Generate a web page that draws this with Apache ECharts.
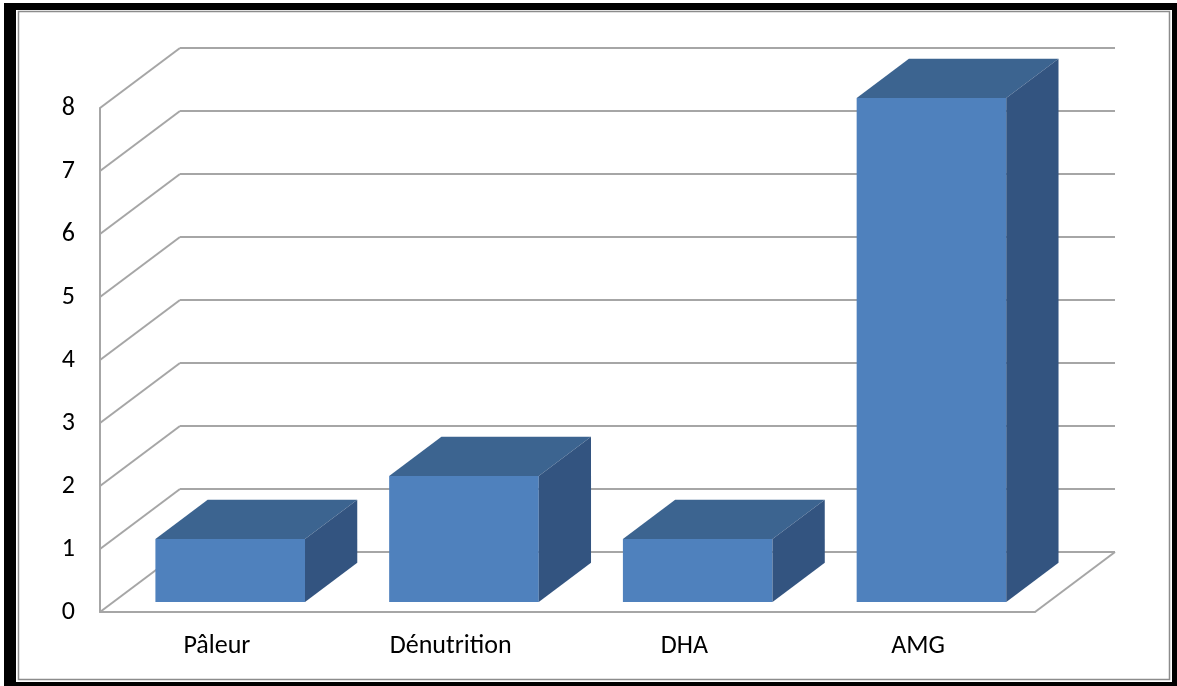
<!DOCTYPE html>
<html>
<head>
<meta charset="utf-8">
<script src="https://cdn.jsdelivr.net/npm/echarts@6/dist/echarts.min.js"></script>
<style>
html,body{margin:0;padding:0;background:#fff;}
#chart{width:1177px;height:686px;}
</style>
</head>
<body>
<div id="chart"></div>
<script>
const categories = ['Pâleur', 'Dénutrition', 'DHA', 'AMG'];
const values = [1, 2, 1, 8];
const yTicks = [0, 1, 2, 3, 4, 5, 6, 7, 8];

const DX = 80, DY = -60;      // depth of the 3D box (pixels)
const F0 = 1 / 6, F1 = 0.82;  // bar front/back depth fractions
const BAR_RATIO = 0.64;
const GRID_COLOR = '#A6A6A6';
const FONT = 'Carlito, Calibri, Lato, sans-serif';

const chart = echarts.init(document.getElementById('chart'), null, {renderer: 'canvas'});

function renderWalls(params, api) {
  const v = api.value(1);
  const cs = params.coordSys;
  const p = api.coord([0, v]);
  const x0 = cs.x, x1 = cs.x + cs.width, y = p[1];
  const style = {stroke: GRID_COLOR, lineWidth: 2, fill: null};
  const children = [
    {type: 'line', shape: {x1: x0, y1: y, x2: x0 + DX, y2: y + DY}, style: style},
    {type: 'line', shape: {x1: x0 + DX, y1: y + DY, x2: x1 + DX, y2: y + DY}, style: style}
  ];
  if (v === yTicks[0]) {
    children.push({type: 'line', shape: {x1: x1, y1: y, x2: x1 + DX, y2: y + DY}, style: style});
  }
  return {type: 'group', children: children};
}

function renderBar(params, api) {
  const i = api.value(0), v = api.value(1);
  const base = api.coord([i, 0]);
  const top = api.coord([i, v]);
  const band = api.size([1, 0])[0];
  const w = band * BAR_RATIO;
  const xl = base[0] - w / 2, xr = base[0] + w / 2;
  const yb = base[1], yt = top[1];
  const ax = DX * F0, ay = DY * F0, bx = DX * F1, by = DY * F1;
  return {
    type: 'group',
    children: [
      {type: 'rect', shape: {x: xl + ax, y: yt + ay, width: w, height: yb - yt},
        style: {fill: '#4F81BD'}},
      {type: 'polygon', shape: {points: [[xl + ax, yt + ay], [xr + ax, yt + ay], [xr + bx, yt + by], [xl + bx, yt + by]]},
        style: {fill: '#3C6490'}},
      {type: 'polygon', shape: {points: [[xr + ax, yt + ay], [xr + bx, yt + by], [xr + bx, yb + by], [xr + ax, yb + ay]]},
        style: {fill: '#335480'}}
    ]
  };
}

chart.setOption({
  animation: false,
  backgroundColor: '#fff',
  graphic: [
    {type: 'rect', z: -100, shape: {x: 4, y: 3, width: 1173, height: 683}, style: {fill: '#000'}},
    {type: 'rect', z: -99, shape: {x: 16, y: 10, width: 1156, height: 672}, style: {fill: '#fff'}},
    {type: 'rect', z: -98, shape: {x: 18.5, y: 11.5, width: 1151, height: 668}, style: {fill: null, stroke: '#8C8C8C', lineWidth: 1.5}}
  ],
  grid: {left: 100, top: 108, width: 935, height: 504, containLabel: false},
  xAxis: {
    type: 'category',
    data: categories,
    axisLine: {show: true, lineStyle: {color: GRID_COLOR, width: 2}},
    axisTick: {show: false},
    splitLine: {show: false},
    axisLabel: {color: '#000', fontSize: 26, fontFamily: FONT, margin: 21}
  },
  yAxis: {
    type: 'value',
    min: yTicks[0],
    max: yTicks[yTicks.length - 1],
    interval: 1,
    axisLine: {show: true, lineStyle: {color: GRID_COLOR, width: 2}},
    axisTick: {show: false},
    splitLine: {show: false},
    axisLabel: {color: '#000', fontSize: 26, fontFamily: FONT, margin: 25}
  },
  series: [
    {
      type: 'custom',
      z: 1,
      renderItem: renderWalls,
      data: yTicks.map(function (t) { return [0, t]; }),
      silent: true
    },
    {
      type: 'custom',
      z: 3,
      renderItem: renderBar,
      data: values.map(function (v, i) { return [i, v]; })
    }
  ]
});
</script>
</body>
</html>
